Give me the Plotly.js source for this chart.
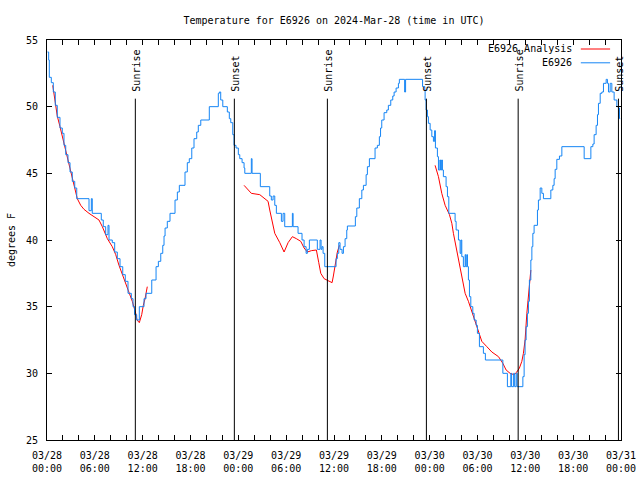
<!DOCTYPE html>
<html>
<head>
<meta charset="utf-8">
<script src="https://cdn.plot.ly/plotly-3.0.1.min.js"></script>
<style>html,body{margin:0;padding:0;background:#fff;}#chart{width:640px;height:480px;}</style>
</head>
<body>
<div id="chart"></div>
<script>
// Hours since 2024-03-28 00:00 UTC
const startUTC = Date.UTC(2024, 2, 28, 0, 0);

const obsHours = [0.06,0.21,0.29,0.54,0.79,1.04,1.29,1.63,1.92,2.13,2.35,2.63,2.89,3.17,3.48,3.73,5.27,5.56,5.68,6.81,7.06,7.36,7.65,7.78,8.19,8.49,8.82,9.16,9.50,9.82,10.16,10.58,10.79,10.98,11.25,11.58,12.17,12.42,13.14,13.68,13.97,14.27,14.52,14.68,14.81,15.09,15.43,16.06,16.35,16.60,17.31,17.60,17.85,18.16,18.44,18.78,18.98,19.29,20.36,21.49,21.62,21.79,22.05,22.62,22.87,23.05,23.30,23.46,23.71,24.00,24.18,24.47,24.72,24.81,25.63,25.72,26.76,27.94,28.14,28.36,28.57,28.77,29.40,29.61,29.82,30.78,30.87,31.49,31.99,32.25,32.50,32.66,32.91,33.91,34.25,34.38,34.50,34.63,34.84,36.26,36.42,36.60,36.76,37.01,37.18,37.39,37.60,37.68,38.68,38.86,39.18,39.49,39.69,40.03,40.19,40.44,41.15,41.44,41.69,41.84,41.99,42.28,42.62,42.82,43.12,43.37,43.54,43.79,44.08,44.20,44.86,44.98,47.11,47.39,47.43,47.55,47.72,47.84,48.06,48.27,48.47,48.62,48.72,48.97,49.10,49.28,49.37,49.50,49.60,49.72,50.06,50.23,50.40,51.19,51.32,51.61,51.82,51.94,52.03,52.23,52.45,52.53,52.66,52.74,52.86,52.99,53.16,53.41,53.58,53.83,53.99,54.24,54.74,54.99,57.18,57.75,58.18,58.28,58.53,58.66,58.85,58.97,59.69,59.85,59.97,60.10,60.26,60.39,60.51,60.69,60.82,60.94,61.10,61.52,61.64,61.86,62.07,62.27,63.20,63.45,63.61,63.74,63.95,64.28,64.58,67.38,68.22,68.47,68.63,68.88,69.05,69.17,69.39,69.60,69.80,70.14,70.30,70.43,70.64,70.85,71.14,71.48,71.68,71.81,71.90];
const obsTemps = [54.1,53.5,52.2,51.8,51.1,50.1,49.2,48.4,48.0,47.1,46.4,45.8,45.1,44.4,43.9,43.1,42.2,43.1,42.0,41.5,41.0,40.4,41.1,40.0,39.8,39.1,38.6,38.0,37.4,36.9,36.0,35.6,35.0,34.4,34.0,35.0,35.6,36.0,37.0,38.0,38.4,39.0,39.6,40.3,40.9,41.4,42.0,43.0,43.6,44.1,45.1,45.8,46.1,46.9,47.6,48.1,48.6,49.0,50.0,51.0,51.1,50.5,50.0,49.6,49.1,48.8,47.9,47.1,46.9,46.4,46.1,45.8,45.4,45.0,46.1,45.0,44.0,43.3,43.0,43.3,42.6,42.0,41.4,42.0,41.0,42.0,41.0,40.5,40.0,39.5,39.0,39.3,40.0,39.3,40.0,39.3,39.5,39.0,38.0,38.6,39.0,39.8,39.3,39.0,39.5,40.1,40.75,41.05,41.75,42.4,43.1,43.75,44.1,44.9,45.5,46.1,46.9,47.1,47.75,48.4,49.0,49.55,49.75,50.1,50.5,50.8,51.1,51.4,51.75,52.05,51.1,52.05,51.5,51.25,50.5,49.75,49.25,48.75,48.25,47.75,47.4,48.2,46.9,46.25,45.25,46.0,45.25,46.0,45.25,44.75,44.0,43.25,42.0,41.4,40.75,40.0,39.0,40.0,38.75,38.0,38.9,38.0,38.9,38.0,37.0,35.75,35.0,34.5,34.0,33.6,33.0,32.0,31.5,31.0,30.0,29.0,30.0,29.0,30.0,29.0,30.0,29.0,29.75,31.4,32.5,33.5,34.5,35.4,37.0,38.5,39.5,40.5,41.1,42.25,43.0,43.9,43.5,43.1,43.75,44.1,44.6,45.3,46.05,46.3,47.0,46.1,47.0,47.2,47.9,48.6,49.4,50.25,51.0,51.1,51.75,52.05,51.75,51.1,51.75,51.1,50.5,50.0,49.9,49.1,49.1];

const analysisHours = [0.72,1.04,1.29,1.63,2.13,2.63,3.17,3.80,4.23,4.64,5.27,5.90,6.52,6.94,7.57,8.19,8.62,9.03,9.66,10.29,10.70,11.13,11.29,11.58,11.88,12.08,12.30,12.58,
  null,
  24.72,25.22,25.63,26.69,27.31,27.73,27.94,28.23,28.57,29.20,29.74,30.24,30.78,31.28,31.83,32.25,32.66,33.16,33.79,34.09,34.34,34.76,35.17,35.76,35.92,36.14,36.42,36.68,
  null,
  48.68,49.10,49.52,49.94,50.48,50.78,50.98,51.32,51.61,51.91,52.16,52.45,52.86,53.29,53.70,54.12,54.54,55.17,55.80,56.63,57.18,57.59,58.09,58.59,58.93,59.26,59.56,59.76,59.97,60.19,60.39,60.51,60.69];
const analysisTemps = [51.6,50.3,49.3,48.5,47.2,45.9,44.6,43.1,42.6,42.3,42.0,41.75,41.5,41.0,40.1,39.5,38.9,38.1,37.1,36.0,35.4,34.5,34.0,33.8,34.4,35.1,35.6,36.5,
  null,
  44.1,43.75,43.5,43.4,43.1,42.9,42.25,41.4,40.5,39.8,39.1,39.8,40.25,40.1,39.9,39.4,39.1,39.2,39.25,38.3,37.5,37.1,37.0,36.8,37.3,38.1,39.1,39.6,
  null,
  45.6,44.75,43.5,42.6,41.9,41.25,40.5,39.5,38.5,37.75,36.9,36.0,35.4,34.6,33.9,33.1,32.4,32.0,31.6,31.25,30.75,30.25,30.0,29.9,30.1,30.4,30.9,31.5,32.5,34.5,35.75,36.5,37.75];

const sunHours = [11.08, 23.50, 35.17, 47.59, 59.10, 71.68];
const sunLabels = ["Sunrise", "Sunset", "Sunrise", "Sunset", "Sunrise", "Sunset"];

const seriesNames = ["E6926 Analysis", "E6926"];
const seriesColors = ["#ff0000", "#1585f5"];

const toMs = h => (h === null ? null : startUTC + h * 3600000);

const FONT = "DejaVu Sans Mono, monospace";

const traces = [
  {x: analysisHours.map(toMs), y: analysisTemps, type: "scatter", mode: "lines",
   name: seriesNames[0], line: {color: seriesColors[0], width: 1}, connectgaps: false, hoverinfo: "skip"},
  {x: obsHours.map(toMs), y: obsTemps, type: "scatter", mode: "lines",
   name: seriesNames[1], line: {color: seriesColors[1], width: 1, shape: "hv"}, hoverinfo: "skip"}
];

const shapes = sunHours.map(h => ({
  type: "line", xref: "x", yref: "y", x0: toMs(h), x1: toMs(h), y0: 25, y1: 50.6,
  line: {color: "#000", width: 1}
}));
// legend samples
seriesColors.forEach((c, i) => {
  const yp = i === 0 ? 0.9775 : 0.943;
  shapes.push({type: "line", xref: "paper", yref: "paper", x0: 0.930, x1: 0.981, y0: yp, y1: yp,
    line: {color: c, width: 1}});
});

const annotations = sunHours.map((h, i) => ({
  x: toMs(h), y: 51.0, xref: "x", yref: "y", text: sunLabels[i], textangle: -90,
  showarrow: false, xanchor: "center", yanchor: "bottom", xshift: 1,
  font: {family: FONT, size: 10, color: "#000"}
}));
seriesNames.forEach((n, i) => {
  annotations.push({x: 0.918, y: i === 0 ? 0.9775 : 0.943, xref: "paper", yref: "paper",
    text: n, showarrow: false, xanchor: "right", yanchor: "middle",
    font: {family: FONT, size: 10, color: "#000"}});
});

const layout = {
  width: 640, height: 480,
  margin: {l: 47, r: 19, t: 40, b: 40},
  paper_bgcolor: "#fff", plot_bgcolor: "#fff",
  showlegend: false,
  font: {family: FONT, size: 10, color: "#000"},
  title: {text: "Temperature for E6926 on 2024-Mar-28 (time in UTC)", x: 0.5, xref: "paper",
          y: 0.958, yref: "container", xanchor: "center", yanchor: "middle",
          font: {family: FONT, size: 10, color: "#000"}},
  xaxis: {
    type: "date", range: [toMs(0), toMs(72)],
    tick0: toMs(0), dtick: 6 * 3600000, tickformat: "%m/%d<br>%H:%M",
    ticks: "inside", ticklen: 5, tickcolor: "#000", tickwidth: 1,
    minor: {dtick: 2 * 3600000, ticks: "inside", ticklen: 5, tickcolor: "#000", showgrid: false},
    showline: true, linecolor: "#000", linewidth: 1, mirror: "allticks",
    showgrid: false, zeroline: false, ticklabelstandoff: 6,
    tickfont: {family: FONT, size: 10, color: "#000"}
  },
  yaxis: {
    range: [25, 55], dtick: 5, tick0: 25,
    ticks: "inside", ticklen: 5, tickcolor: "#000", tickwidth: 1,
    showline: true, linecolor: "#000", linewidth: 1, mirror: "allticks",
    showgrid: false, zeroline: false, ticklabelstandoff: 6,
    tickfont: {family: FONT, size: 10, color: "#000"},
    title: {text: "degrees F", standoff: 8, font: {family: FONT, size: 10, color: "#000"}}
  },
  shapes: shapes,
  annotations: annotations
};

Plotly.newPlot("chart", traces, layout, {staticPlot: true, displayModeBar: false});
</script>
</body>
</html>
